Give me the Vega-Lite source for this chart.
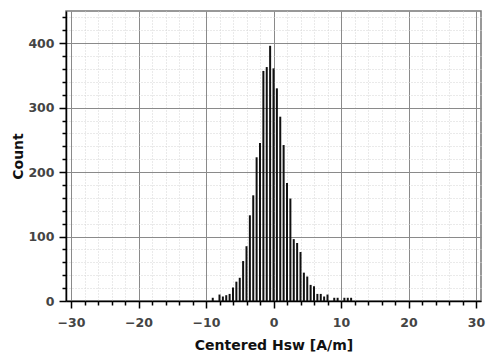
{
  "$schema": "https://vega.github.io/schema/vega-lite/v6.json",
  "width": 415,
  "height": 290,
  "autosize": {"type": "none"},
  "padding": {"left": 66, "top": 11, "right": 8, "bottom": 55},
  "background": "white",
  "config": {
    "view": {"stroke": "#777", "strokeWidth": 1.5},
    "font": "DejaVu Sans"
  },
  "data": {
    "values": [
      {"h": -9, "count": 5}, {"h": -8.5, "count": 0}, {"h": -8, "count": 10}, {"h": -7.5, "count": 7},
      {"h": -7, "count": 9}, {"h": -6.5, "count": 11}, {"h": -6, "count": 21}, {"h": -5.5, "count": 30},
      {"h": -5, "count": 36}, {"h": -4.5, "count": 62}, {"h": -4, "count": 85}, {"h": -3.5, "count": 133},
      {"h": -3, "count": 164}, {"h": -2.5, "count": 223}, {"h": -2, "count": 245}, {"h": -1.5, "count": 357},
      {"h": -1, "count": 363}, {"h": -0.5, "count": 396}, {"h": 0, "count": 361}, {"h": 0.5, "count": 330},
      {"h": 1, "count": 286}, {"h": 1.5, "count": 242}, {"h": 2, "count": 183}, {"h": 2.5, "count": 159},
      {"h": 3, "count": 96}, {"h": 3.5, "count": 90}, {"h": 4, "count": 76}, {"h": 4.5, "count": 44},
      {"h": 5, "count": 38}, {"h": 5.5, "count": 25}, {"h": 6, "count": 23}, {"h": 6.5, "count": 11},
      {"h": 7, "count": 11}, {"h": 7.5, "count": 7}, {"h": 8, "count": 10}, {"h": 8.5, "count": 0},
      {"h": 9, "count": 5}, {"h": 9.5, "count": 5}, {"h": 10, "count": 0}, {"h": 10.5, "count": 5},
      {"h": 11, "count": 5}, {"h": 11.5, "count": 5}
    ]
  },
  "mark": {"type": "bar", "size": 2, "color": "#111"},
  "encoding": {
    "x": {
      "field": "h",
      "type": "quantitative",
      "scale": {"domain": [-30, 30], "nice": false, "zero": false},
      "axis": {
        "values": [-30,-28,-26,-24,-22,-20,-18,-16,-14,-12,-10,-8,-6,-4,-2,0,2,4,6,8,10,12,14,16,18,20,22,24,26,28,30],
        "labelExpr": "datum.value % 10 === 0 ? replace(format(datum.value, 'd'), '-', '\u2212') : ''",
        "title": "Centered Hsw [A/m]",
        "titleFont": "DejaVu Sans",
        "titleFontSize": 14,
        "titleFontWeight": "bold",
        "titleColor": "#111",
        "titlePadding": 10,
        "labelFont": "DejaVu Sans",
        "labelFontSize": 12.5,
        "labelFontWeight": "bold",
        "labelColor": "#444",
        "labelPadding": 8,
        "labelFlush": false,
        "labelOverlap": false,
        "domainColor": "#000",
        "domainWidth": 1.5,
        "tickColor": "#000",
        "tickWidth": 1.5,
        "tickSize": {"condition": {"test": "datum.value % 10 === 0", "value": 7}, "value": 4},
        "grid": true,
        "gridColor": {"condition": {"test": "datum.value % 10 === 0", "value": "#8a8a8a"}, "value": "#d4d4d4"},
        "gridDash": {"condition": {"test": "datum.value % 10 === 0", "value": []}, "value": [1, 2]},
        "gridWidth": 1
      }
    },
    "y": {
      "field": "count",
      "type": "quantitative",
      "scale": {"domain": [0, 450], "nice": false},
      "axis": {
        "values": [0,20,40,60,80,100,120,140,160,180,200,220,240,260,280,300,320,340,360,380,400,420,440],
        "labelExpr": "datum.value % 100 === 0 ? format(datum.value, 'd') : ''",
        "title": "Count",
        "titleFont": "DejaVu Sans",
        "titleFontSize": 14,
        "titleFontWeight": "bold",
        "titleColor": "#111",
        "titlePadding": 2,
        "labelFont": "DejaVu Sans",
        "labelFontSize": 12.5,
        "labelFontWeight": "bold",
        "labelColor": "#444",
        "labelPadding": 5,
        "labelOverlap": false,
        "domainColor": "#000",
        "domainWidth": 1.5,
        "tickColor": "#000",
        "tickWidth": 1.5,
        "tickSize": {"condition": {"test": "datum.value % 100 === 0", "value": 7}, "value": 4},
        "grid": true,
        "gridColor": {"condition": {"test": "datum.value % 100 === 0", "value": "#8a8a8a"}, "value": "#d4d4d4"},
        "gridDash": {"condition": {"test": "datum.value % 100 === 0", "value": []}, "value": [1, 2]},
        "gridWidth": 1
      }
    }
  }
}
